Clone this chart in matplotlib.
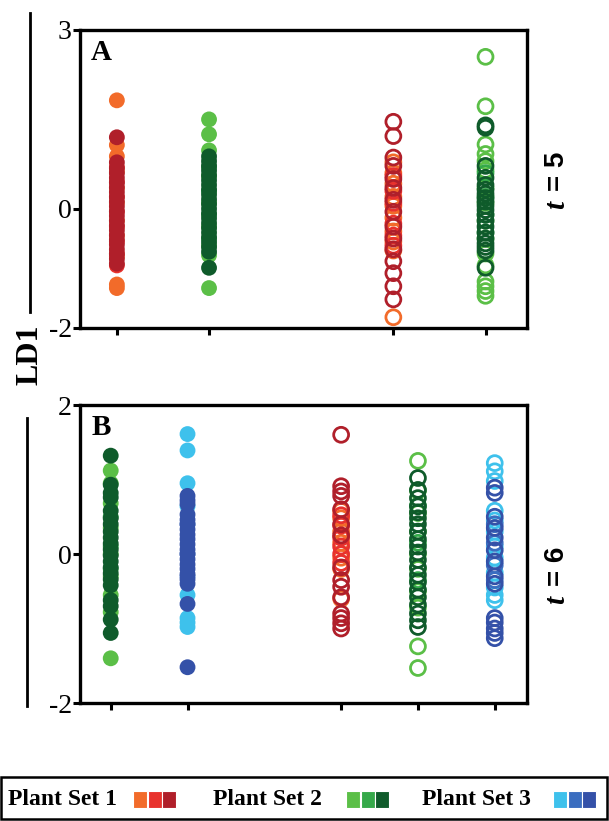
import matplotlib
matplotlib.use("Agg")
import matplotlib.pyplot as plt
from matplotlib.patches import Rectangle
from matplotlib.lines import Line2D

plt.rcParams['font.family'] = ['Liberation Serif', 'DejaVu Serif']

set1_colors = ["#F26B2A", "#E8322D", "#B01F2A"]
set2_colors = ["#5BBF47", "#35A94A", "#0F5B2B"]
set3_colors = ["#3EC1EC", "#3B6EC0", "#3451A8"]

# panel A (t = 5): three series per column (one per plant)
a1 = [[1.82, 1.07, 0.88, 0.62, 0.35, 0.1, -0.2, -0.45, -0.8, -1.27, -1.33],
      [0.7, 0.45, 0.2, -0.05, -0.3, -0.55, -0.75, -0.95],
      [1.2, 0.78, 0.68, 0.6, 0.52, 0.44, 0.36, 0.28, 0.2, 0.12, 0.04, -0.04, -0.12,
       -0.2, -0.28, -0.36, -0.44, -0.52, -0.6, -0.68, -0.76, -0.84, -0.92]]
a2 = [[1.5, 1.25, 0.98, 0.55, 0.1, -0.3, -0.62, -0.78, -1.33],
      [0.7, 0.3, -0.1, -0.5],
      [0.88, 0.8, 0.72, 0.64, 0.56, 0.48, 0.4, 0.32, 0.24, 0.16, 0.08, 0.0, -0.08,
       -0.16, -0.24, -0.32, -0.4, -0.48, -0.56, -0.64, -0.72, -0.99]]
a4 = [[0.78, 0.6, 0.42, 0.2, 0.05, -0.15, -0.38, -0.55, -0.7, -1.82],
      [0.55, 0.3, 0.1, -0.25, -0.45, -0.62],
      [1.46, 1.22, 0.86, 0.72, 0.5, 0.35, 0.15, -0.05, -0.3, -0.5, -0.68, -0.88,
       -1.08, -1.3, -1.52]]
a5 = [[2.55, 1.72, 1.08, 0.92, 0.8, 0.65, 0.35, 0.1, -0.2, -0.5, -0.75, -0.95,
       -1.22, -1.3, -1.38, -1.46],
      [0.6, 0.2, -0.1, -0.4],
      [1.4, 1.36, 0.72, 0.52, 0.4, 0.32, 0.25, 0.18, 0.12, 0.05, -0.02, -0.1, -0.2,
       -0.3, -0.4, -0.5, -0.58, -0.64, -0.7, -0.99]]

# panel B (t = 6)
b1 = [[1.12, 0.95, 0.68, 0.35, 0.0, -0.3, -0.55, -0.78, -1.4],
      [0.5, 0.1, -0.2],
      [1.32, 0.93, 0.82, 0.76, 0.58, 0.48, 0.4, 0.3, 0.22, 0.14, 0.06, -0.02, -0.1,
       -0.18, -0.26, -0.34, -0.42, -0.62, -0.7, -0.88, -1.06]]
b2 = [[1.61, 1.39, 0.95, 0.64, -0.55, -0.86, -0.92, -0.98],
      [0.4, 0.0, -0.3],
      [0.78, 0.72, 0.67, 0.53, 0.46, 0.4, 0.33, 0.26, 0.2, 0.13, 0.06, 0.0, -0.07,
       -0.14, -0.2, -0.27, -0.34, -0.4, -0.67, -1.52]]
b4 = [[0.58, 0.48, 0.3, 0.15, -0.05, -0.2, -0.6],
      [0.52, 0.38, 0.22, 0.1, 0.0, -0.12],
      [1.6, 0.91, 0.84, 0.78, 0.6, 0.4, 0.25, -0.18, -0.35, -0.44, -0.58, -0.8,
       -0.86, -0.93, -1.0]]
b5 = [[1.25, 0.85, 0.55, 0.3, 0.0, -0.2, -0.5, -0.72, -1.24, -1.53],
      [0.65, 0.15, -0.35],
      [1.02, 0.86, 0.75, 0.64, 0.56, 0.48, 0.4, 0.3, 0.2, 0.1, 0.02, -0.08, -0.18,
       -0.28, -0.38, -0.48, -0.58, -0.68, -0.8, -0.89, -0.98]]
b6 = [[1.22, 1.11, 0.98, 0.58, 0.45, 0.3, 0.1, -0.05, -0.25, -0.45, -0.55, -0.62],
      [0.4, 0.15, -0.15, -0.35],
      [0.89, 0.82, 0.5, 0.35, 0.22, 0.05, -0.1, -0.3, -0.4, -0.86, -0.92, -1.0,
       -1.06, -1.13]]

panel_a = [(1, True, set1_colors, a1), (2, True, set2_colors, a2),
           (4, False, set1_colors, a4), (5, False, set2_colors, a5)]
panel_b = [(1, True, set2_colors, b1), (2, True, set3_colors, b2),
           (4, False, set1_colors, b4), (5, False, set2_colors, b5),
           (6, False, set3_colors, b6)]

W, H = 609, 821
fig = plt.figure(figsize=(W / 100, H / 100), dpi=100)


def px_axes(x0, y0, x1, y1):
    return fig.add_axes([x0 / W, 1 - y1 / H, (x1 - x0) / W, (y1 - y0) / H])


def draw_panel(ax, groups, ylim, yticks, xlim, letter):
    for xpos, filled, cols, series in groups:
        for c, vals in zip(cols, series):
            xs = [xpos] * len(vals)
            if filled:
                ax.scatter(xs, vals, s=130, color=c, edgecolor='none', zorder=3)
            else:
                ax.scatter(xs, vals, s=115, facecolor='none', edgecolor=c,
                           linewidth=2.0, zorder=3)
    ax.set_ylim(*ylim)
    ax.set_xlim(*xlim)
    ax.set_yticks(yticks)
    ax.set_yticklabels([str(t) for t in yticks], fontsize=20)
    ax.set_xticks([g[0] for g in groups])
    ax.set_xticklabels([])
    ax.tick_params(direction='out', length=5, width=2.2, pad=1)
    for sp in ax.spines.values():
        sp.set_linewidth(2.4)
    ax.text(0.025, 0.97, letter, transform=ax.transAxes, fontsize=21,
            fontweight='bold', va='top', ha='left')


ax_a = px_axes(80, 30, 527, 328)
draw_panel(ax_a, panel_a, (-2, 3), [-2, 0, 3], (0.6, 5.45), "A")
ax_b = px_axes(80, 405, 527, 703)
draw_panel(ax_b, panel_b, (-2, 2), [-2, 0, 2], (0.6, 6.42), "B")

# right side time labels
for ybot, num in [(209, "5"), (604, "6")]:
    fig.text(557 / W, 1 - ybot / H, "t", fontsize=21, fontweight='bold',
             fontstyle='italic', rotation=90, ha='center', va='bottom')
    fig.text(557 / W, 1 - (ybot - 18) / H, "= " + num, fontsize=20,
             fontweight='bold', family=['Liberation Sans', 'DejaVu Sans'],
             rotation=90, ha='center', va='bottom')

# shared y label with bracket lines
fig.text(30 / W, 1 - 355 / H, "LD1", fontsize=23, fontweight='bold',
         rotation=90, ha='center', va='center')
fig.add_artist(Line2D([30 / W, 30 / W], [1 - 13 / H, 1 - 312 / H],
                      color='black', linewidth=2))
fig.add_artist(Line2D([27 / W, 27 / W], [1 - 418 / H, 1 - 706 / H],
                      color='black', linewidth=2))

# legend strip at bottom
fig.add_artist(Rectangle((1 / W, 2 / H), (W - 3) / W, 42 / H,
                         transform=fig.transFigure, facecolor='none',
                         edgecolor='black', linewidth=1.8))
legend_items = [("Plant Set 1", 8, 133, set1_colors),
                ("Plant Set 2", 213, 346, set2_colors),
                ("Plant Set 3", 422, 553, set3_colors)]
for label, tx, sx, cols in legend_items:
    fig.text(tx / W, 1 - 799 / H, label, fontsize=17, fontweight='bold',
             ha='left', va='center')
    for i, c in enumerate(cols):
        fig.add_artist(Rectangle(((sx + i * 14.5) / W, 1 - 808 / H), 14 / W, 17 / H,
                                 transform=fig.transFigure, facecolor=c,
                                 edgecolor='white', linewidth=0.8))

fig.savefig("out.png", dpi=100)
